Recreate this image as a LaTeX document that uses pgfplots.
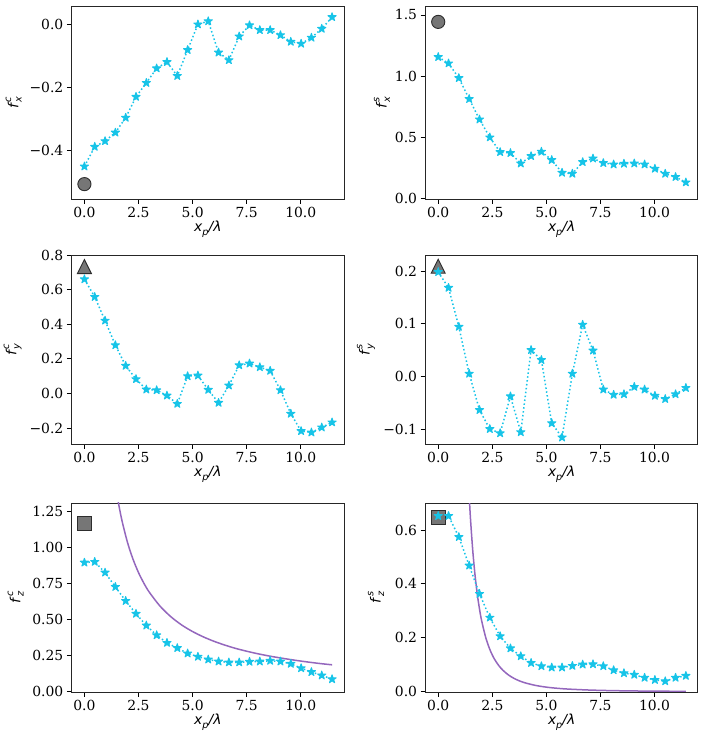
\documentclass[border=0pt]{standalone}
\usepackage{fontspec}
\setmainfont{DejaVu Serif}
\newfontfamily\dvs{DejaVu Sans}
\usepackage{pgfplots}
\usepackage{pgfplotstable}
\pgfplotsset{compat=1.18}

\definecolor{cyanm}{RGB}{23,196,232}
\definecolor{purp}{RGB}{148,103,189}
\definecolor{mgray}{RGB}{118,118,118}
\definecolor{medge}{RGB}{45,45,45}

\pgfdeclareplotmark{fstar}{%
  \pgfpathmoveto{\pgfpointpolar{90}{\pgfplotmarksize}}%
  \pgfpathlineto{\pgfpointpolar{126}{0.382\pgfplotmarksize}}%
  \pgfpathlineto{\pgfpointpolar{162}{\pgfplotmarksize}}%
  \pgfpathlineto{\pgfpointpolar{198}{0.382\pgfplotmarksize}}%
  \pgfpathlineto{\pgfpointpolar{234}{\pgfplotmarksize}}%
  \pgfpathlineto{\pgfpointpolar{270}{0.382\pgfplotmarksize}}%
  \pgfpathlineto{\pgfpointpolar{306}{\pgfplotmarksize}}%
  \pgfpathlineto{\pgfpointpolar{342}{0.382\pgfplotmarksize}}%
  \pgfpathlineto{\pgfpointpolar{18}{\pgfplotmarksize}}%
  \pgfpathlineto{\pgfpointpolar{54}{0.382\pgfplotmarksize}}%
  \pgfpathclose
  \pgfusepathqfillstroke}
\pgfdeclareplotmark{mtri}{%
  \pgfpathmoveto{\pgfqpoint{0pt}{\pgfplotmarksize}}%
  \pgfpathlineto{\pgfqpoint{-\pgfplotmarksize}{-\pgfplotmarksize}}%
  \pgfpathlineto{\pgfqpoint{\pgfplotmarksize}{-\pgfplotmarksize}}%
  \pgfpathclose
  \pgfusepathqfillstroke}

\newcommand{\sz}{\fontsize{13.9}{16}\selectfont}
\newcommand{\ssz}{\fontsize{9.7}{10}\selectfont}
\newcommand{\xlab}{{\dvs\itshape x\raisebox{-0.4ex}{\ssz p}/λ}}
\newcommand{\ylab}[2]{{\dvs\itshape f\kern1.2pt\makebox[0pt][l]{\raisebox{0.95ex}{\ssz #2}}\raisebox{-0.45ex}{\ssz #1}}}

\pgfplotstableread{
x fxc fxs fyc fys fzc fzs
0 -0.450 1.156 0.660 0.198 0.893 0.652
0.477 -0.388 1.104 0.558 0.168 0.898 0.652
0.954 -0.370 0.984 0.421 0.094 0.824 0.574
1.431 -0.343 0.813 0.279 0.005 0.725 0.468
1.908 -0.296 0.646 0.160 -0.064 0.628 0.363
2.385 -0.230 0.499 0.083 -0.100 0.539 0.275
2.862 -0.186 0.379 0.023 -0.108 0.458 0.206
3.339 -0.140 0.371 0.019 -0.038 0.391 0.161
3.816 -0.120 0.286 -0.012 -0.106 0.338 0.132
4.293 -0.164 0.346 -0.060 0.050 0.302 0.107
4.770 -0.082 0.382 0.100 0.031 0.265 0.095
5.247 -0.001 0.314 0.104 -0.089 0.242 0.090
5.724 0.009 0.210 0.021 -0.116 0.223 0.090
6.201 -0.090 0.202 -0.054 0.005 0.209 0.096
6.678 -0.114 0.297 0.046 0.098 0.203 0.101
7.155 -0.039 0.327 0.163 0.049 0.203 0.102
7.632 -0.004 0.289 0.173 -0.025 0.207 0.095
8.109 -0.019 0.278 0.152 -0.035 0.209 0.080
8.586 -0.019 0.284 0.131 -0.034 0.214 0.069
9.063 -0.035 0.286 0.019 -0.020 0.209 0.063
9.540 -0.056 0.278 -0.117 -0.025 0.193 0.052
10.017 -0.062 0.243 -0.217 -0.037 0.163 0.044
10.494 -0.043 0.202 -0.225 -0.043 0.136 0.039
10.971 -0.015 0.175 -0.196 -0.034 0.113 0.052
11.448 0.022 0.131 -0.167 -0.022 0.087 0.059
}\data

\pgfplotstableread{
x y
1.50 1.368
1.60 1.283
1.75 1.174
2.00 1.028
2.25 0.915
2.50 0.824
2.75 0.750
3.00 0.688
3.50 0.591
4.00 0.518
4.50 0.461
5.00 0.416
5.50 0.379
6.00 0.348
6.50 0.322
7.00 0.299
7.50 0.280
8.00 0.263
8.50 0.248
9.00 0.235
9.50 0.223
10.00 0.212
10.50 0.202
11.00 0.193
11.45 0.186
}\purpc

\pgfplotstableread{
x y
1.40 0.776
1.45 0.699
1.50 0.631
1.60 0.520
1.70 0.434
1.80 0.365
1.90 0.311
2.00 0.266
2.20 0.200
2.40 0.154
2.60 0.121
2.80 0.097
3.00 0.0789
3.25 0.0620
3.50 0.0497
3.75 0.0404
4.00 0.0333
4.50 0.0234
5.00 0.0170
5.50 0.0128
6.00 0.00986
7.00 0.00621
8.00 0.00416
9.00 0.00292
10.00 0.00213
11.45 0.00142
}\purps

\pgfplotsset{
  panel/.style={
    anchor=south west, scale only axis, width=272.3pt,
    xmin=-0.588, xmax=12.0,
    xtick={0,2.5,5,7.5,10}, xticklabels={0.0,2.5,5.0,7.5,10.0},
    tick align=outside, tick pos=left, major tick length=4.9pt,
    tick style={black, line width=0.8pt},
    axis line style={black!85, line width=0.9pt},
    tick label style={font=\sz},
    label style={font=\sz},
    xlabel={\xlab},
    xlabel style={at={(axis description cs:0.5,0)}, anchor=base, yshift=-33pt},
  },
  cyser/.style={color=cyanm, line width=1.5pt, dash pattern=on 1.5pt off 2.4pt,
    mark=fstar, mark size=4.3pt, mark options={solid, fill=cyanm, draw=cyanm, line width=1pt, line join=round}},
  gm/.style={only marks, mark options={fill=mgray, draw=medge, line width=0.9pt}},
  pu/.style={color=purp, line width=1.5pt, no marks, smooth},
}

\begin{document}
\begin{tikzpicture}[x=1pt,y=1pt]
\useasboundingbox (0,0) rectangle (706,742);

% Row 1 left
\begin{axis}[panel, at={(71.7pt,543pt)}, height=193pt,
  ymin=-0.553, ymax=0.057, ytick={-0.4,-0.2,0}, yticklabels={−0.4,−0.2,0.0},
  ylabel={\ylab{x}{c}}, ylabel style={at={([xshift=-58pt]axis description cs:0,0.5)}, anchor=center}]
\addplot[gm, mark=*, mark size=6.6pt] coordinates {(0,-0.506)};
\addplot[cyser] table[x=x,y=fxc] {\data};
\end{axis}

% Row 1 right
\begin{axis}[panel, at={(425.5pt,543pt)}, height=193pt,
  ymin=-0.005, ymax=1.573, ytick={0,0.5,1,1.5}, yticklabels={0.0,0.5,1.0,1.5},
  ylabel={\ylab{x}{s}}, ylabel style={at={([xshift=-43.5pt]axis description cs:0,0.5)}, anchor=center}]
\addplot[gm, mark=*, mark size=6.6pt] coordinates {(0,1.443)};
\addplot[cyser] table[x=x,y=fxs] {\data};
\end{axis}

% Row 2 left
\begin{axis}[panel, at={(71.7pt,298pt)}, height=189pt,
  ymin=-0.292, ymax=0.8, ytick={-0.2,0,0.2,0.4,0.6,0.8}, yticklabels={−0.2,0.0,0.2,0.4,0.6,0.8},
  ylabel={\ylab{y}{c}}, ylabel style={at={([xshift=-59pt]axis description cs:0,0.5)}, anchor=center}]
\addplot[gm, mark=mtri, mark size=7pt] coordinates {(0,0.733)};
\addplot[cyser] table[x=x,y=fyc] {\data};
\end{axis}

% Row 2 right
\begin{axis}[panel, at={(425.5pt,298pt)}, height=189pt,
  ymin=-0.1285, ymax=0.2303, ytick={-0.1,0,0.1,0.2}, yticklabels={−0.1,0.0,0.1,0.2},
  ylabel={\ylab{y}{s}}, ylabel style={at={([xshift=-59.5pt]axis description cs:0,0.5)}, anchor=center}]
\addplot[gm, mark=mtri, mark size=7pt] coordinates {(0,0.209)};
\addplot[cyser] table[x=x,y=fys] {\data};
\end{axis}

% Row 3 left
\begin{axis}[panel, at={(71.7pt,50pt)}, height=189pt,
  ymin=-0.002, ymax=1.305, ytick={0,0.25,0.5,0.75,1,1.25}, yticklabels={0.00,0.25,0.50,0.75,1.00,1.25},
  ylabel={\ylab{z}{c}}, ylabel style={at={([xshift=-56pt]axis description cs:0,0.5)}, anchor=center}]
\addplot[gm, mark=square*, mark size=7pt] coordinates {(0,1.167)};
\addplot[pu] table[x=x,y=y] {\purpc};
\addplot[cyser] table[x=x,y=fzc] {\data};
\end{axis}

% Row 3 right
\begin{axis}[panel, at={(425.5pt,50pt)}, height=189pt,
  ymin=-0.001, ymax=0.7, ytick={0,0.2,0.4,0.6}, yticklabels={0.0,0.2,0.4,0.6},
  ylabel={\ylab{z}{s}}, ylabel style={at={([xshift=-49.5pt]axis description cs:0,0.5)}, anchor=center}]
\addplot[gm, mark=square*, mark size=7pt] coordinates {(0,0.647)};
\addplot[pu] table[x=x,y=y] {\purps};
\addplot[cyser] table[x=x,y=fzs] {\data};
\end{axis}
\end{tikzpicture}
\end{document}
